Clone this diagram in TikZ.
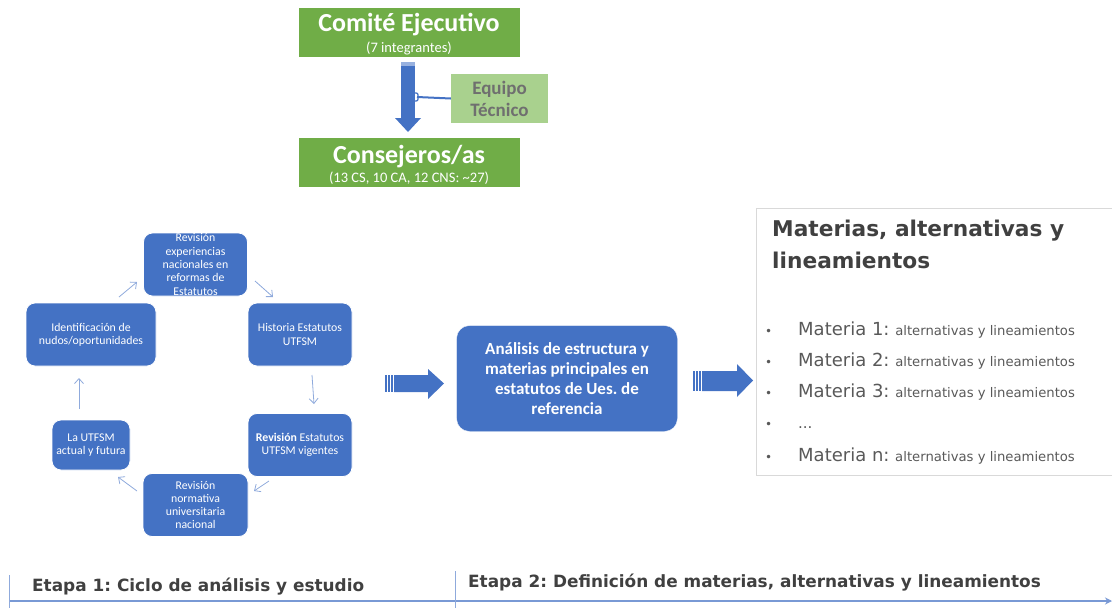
\documentclass[tikz,border=0pt]{standalone}
\usepackage{fontspec}
\setmainfont{Carlito}
\newfontfamily\verd{DejaVu Sans}
\usetikzlibrary{arrows.meta,positioning}
\definecolor{gr}{HTML}{70AD47}
\definecolor{lgr}{HTML}{A9D18E}
\definecolor{bl}{HTML}{4472C4}
\definecolor{lbl}{HTML}{8FAADC}
\definecolor{dg}{HTML}{404040}
\definecolor{mg}{HTML}{595959}
\definecolor{eq}{HTML}{6F6F6F}
\definecolor{bord}{HTML}{D9D9D9}
\frenchspacing
\tikzset{
  greenbox/.style={fill=gr, draw=white, line width=0.8pt, minimum width=222pt, minimum height=50pt, inner sep=0pt},
  gtitle/.style={anchor=base, text=white, inner sep=0pt, font=\fontsize{26}{28}\selectfont\bfseries},
  gsub/.style={anchor=base, text=white, inner sep=0pt, font=\fontsize{14.5}{16}\selectfont},
  cyc/.style={fill=bl, draw=white, line width=0.8pt, rounded corners=9pt, text=white, align=center, inner sep=0pt, font=\fontsize{11.8}{13.3}\selectfont},
  thin/.style={draw=lbl, line width=0.8pt, -{Straight Barb[length=5pt,width=9pt]}},
  blockarrow/.style={fill=bl, draw=none},
  itm/.style={anchor=base west, text=mg, inner sep=0pt},
  ttl/.style={anchor=base west, inner sep=0pt, text=dg, font=\verd\bfseries\fontsize{21.7}{26}\selectfont},
  etapa/.style={anchor=base west, inner sep=0pt, text=dg, font=\verd\bfseries\fontsize{16.9}{19}\selectfont},
}
\begin{document}
\begin{tikzpicture}[x=1pt,y=-1pt]
\useasboundingbox (0,0) rectangle (1112,608);
% top structure
\node[greenbox] (ce) at (409,32) {};
\node[gtitle] (cet) at (409,31) {Comité Ejecutivo};
\node[gsub] (ces) at (409,52) {(7 integrantes)};
\node[greenbox] (cons) at (409,162) {};
\node[gtitle] (const) at (409,163) {Consejeros/as};
\node[gsub] (conss) at (409,182) {(13 CS, 10 CA, 12 CNS: \textasciitilde27)};
\node[fill=lgr, minimum width=97pt, minimum height=49pt, inner sep=0pt, align=center, text=eq, font=\fontsize{19}{22}\selectfont\bfseries] (et) at (499.5,98.5) {Equipo\\Técnico};
% down arrow
\fill[bl!55] (401,62) rectangle (415,66);
\fill[bl] (401,66) rectangle (415,119);
\fill[bl] (395,118) -- (421,118) -- (408,132) -- cycle;
\coordinate (br) at (417,97);
\draw[bl, line width=2pt] (br) -- (et.west);
\draw[bl, line width=1.2pt] (414,93) .. controls (418,93) .. (418,97) .. controls (418,101) .. (414,101);
% cycle
\node[cyc, minimum width=104pt, minimum height=63pt] (c1) at (195.5,264.5) {Revisión\\experiencias\\nacionales en\\reformas de\\Estatutos};
\node[cyc, minimum width=104pt, minimum height=63pt] (c2) at (300,334.5) {Historia Estatutos\\UTFSM};
\node[cyc, minimum width=104pt, minimum height=63pt] (c3) at (300,445) {\textbf{Revisión} Estatutos\\UTFSM vigentes};
\node[cyc, minimum width=105pt, minimum height=63pt] (c4) at (195.5,505) {Revisión\\normativa\\universitaria\\nacional};
\node[cyc, minimum width=78pt, minimum height=50pt] (c5) at (91,445) {La UTFSM\\actual y futura};
\node[cyc, minimum width=130pt, minimum height=63pt] (c6) at (91,334.5) {Identificación de\\nudos/oportunidades};
\coordinate (a1s) at (119,297); \coordinate (a1e) at (137,282);
\coordinate (a2s) at (255,281); \coordinate (a2e) at (273,297);
\coordinate (a3s) at (312,375); \coordinate (a3e) at (314,404);
\coordinate (a4s) at (269,481); \coordinate (a4e) at (254,491);
\coordinate (a5s) at (137,491); \coordinate (a5e) at (118,477);
\coordinate (a6s) at (79,409); \coordinate (a6e) at (79,378);
\draw[thin] (a1s) -- (a1e);
\draw[thin] (a2s) -- (a2e);
\draw[thin] (a3s) -- (a3e);
\draw[thin] (a4s) -- (a4e);
\draw[thin] (a5s) -- (a5e);
\draw[thin] (a6s) -- (a6e);
% block arrows
\foreach \xx in {385,388,391}{\fill[bl] (\xx,375) rectangle (\xx+1.5,392);}
\fill[blockarrow] (394,375) -- (428,375) -- (428,369) -- (444,383.5) -- (428,399) -- (428,392) -- (394,392) -- cycle;
\foreach \xx in {693,696,699}{\fill[bl] (\xx,371) rectangle (\xx+1.5,391);}
\fill[blockarrow] (702,371) -- (737,371) -- (737,364) -- (753,380.5) -- (737,397) -- (737,391) -- (702,391) -- cycle;
% center box
\node[fill=bl, draw=white, rounded corners=13pt, minimum width=221pt, minimum height=106pt, inner sep=0pt, text=white, align=center, font=\fontsize{17}{20}\selectfont\bfseries] (cb) at (567,378.5) {Análisis de estructura y\\materias principales en\\estatutos de Ues. de\\referencia};
% right box
\draw[bord, line width=1pt] (1113,208) -- (756,208) -- (756,475) -- (1113,475);
\node[ttl] (tt1) at (772,236) {Materias, alternativas y};
\node[ttl] (tt2) at (772,268) {lineamientos};
\foreach \yy/\lab [count=\i] in {335/1, 366/2, 397/3, 461/n}{
  \node[itm, font=\verd\fontsize{12}{14}\selectfont] (b\i) at (765,\yy) {•};
  \node[itm] (m\i) at (798,\yy) {{\verd\fontsize{18}{20}\selectfont Materia \lab:\ }{\verd\fontsize{13.2}{15}\selectfont alternativas y lineamientos}};
}
\node[itm, font=\verd\fontsize{12}{14}\selectfont] (bd) at (765,428) {•};
\node[itm, font=\verd\fontsize{15}{18}\selectfont] (md) at (798,428) {...};
% bottom timeline
\coordinate (tl0) at (9,601);
\coordinate (tl1) at (1112,601);
\draw[lbl!70!bl, line width=1.6pt, -{Stealth[length=7pt,width=7pt]}] (tl0) -- (tl1);
\coordinate (t1a) at (9,575); \coordinate (t1b) at (9,608);
\coordinate (t2a) at (455,571); \coordinate (t2b) at (455,608);
\draw[lbl, line width=0.7pt] (t1a) -- (t1b);
\draw[lbl, line width=0.7pt] (t2a) -- (t2b);
\node[etapa] (e1) at (32,591) {Etapa 1: Ciclo de análisis y estudio};
\node[etapa] (e2) at (468,587) {Etapa 2: Definición de materias, alternativas y lineamientos};
\end{tikzpicture}
\end{document}
